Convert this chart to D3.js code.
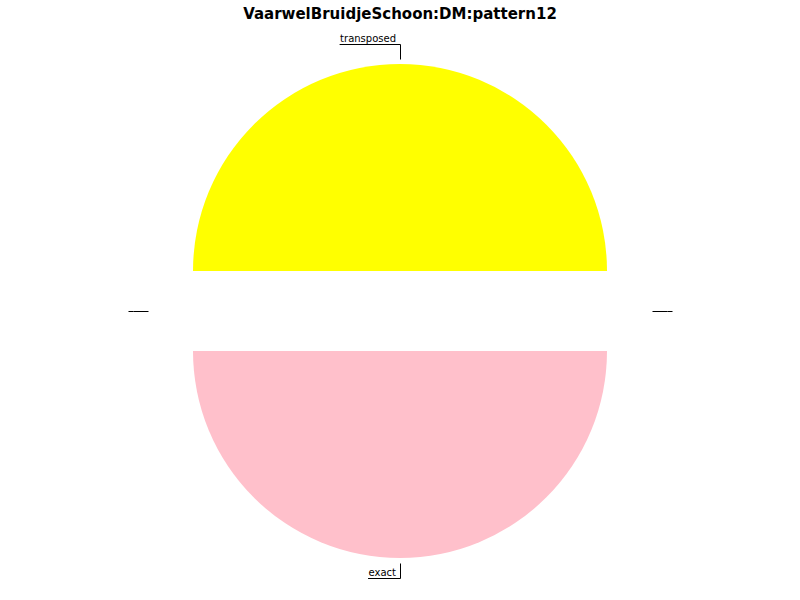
<!DOCTYPE html>
<html><head><meta charset="utf-8">
<script src="https://cdn.jsdelivr.net/npm/d3@7"></script>
<style>body{margin:0;background:#fff;} svg{display:block;}</style>
</head><body>
<svg id="chart" width="800" height="600"></svg>
<script>
const title = "VaarwelBruidjeSchoon:DM:pattern12";
const categories = ["transposed", "", "exact", ""];
const values = [1, 0, 1, 0];
const colors = ["#ffff00", "#cccccc", "#ffc0cb", "#cccccc"];

const W = 800, H = 600;
const cx = 400, cy = 311, R = 207, explode = 40;
const svg = d3.select("#chart");
svg.append("rect").attr("width", W).attr("height", H).attr("fill", "#fff");

svg.append("text").attr("x", W/2).attr("y", 19).attr("text-anchor", "middle")
  .attr("font-family", "DejaVu Sans").attr("font-weight", "bold").attr("font-size", 15)
  .text(title);

const data = categories.map((c, i) => ({name: c, value: values[i], color: colors[i]}));
const pie = d3.pie().value(d => d.value).sort(null).startAngle(-Math.PI/2).endAngle(3*Math.PI/2);
const arcs = pie(data);
const arc = d3.arc().innerRadius(0).outerRadius(R);
const g = svg.append("g").attr("transform", `translate(${cx},${cy})`);

arcs.forEach(a => {
  const mid = (a.startAngle + a.endAngle) / 2;
  const dx = Math.sin(mid) * explode, dy = -Math.cos(mid) * explode;
  if (a.data.value > 0) {
    g.append("path").attr("d", arc(a)).attr("fill", a.data.color)
      .attr("transform", `translate(${dx},${dy})`);
  }
});

arcs.forEach(a => {
  const mid = (a.startAngle + a.endAngle) / 2;
  const s = Math.sin(mid), c = -Math.cos(mid);
  const r1 = R + explode + 5, r2 = R + explode + 20;
  const x1 = s * r1, y1 = c * r1, x2 = s * r2, y2 = c * r2;
  const right = s > 1e-6;
  const t = g.append("text").attr("font-family", "DejaVu Sans").attr("font-size", 10)
    .attr("y", y2 - 2).attr("text-anchor", right ? "start" : "end")
    .attr("x", right ? x2 + 4 : x2 - 4).text(a.data.name);
  const tw = a.data.name ? t.node().getComputedTextLength() : 0;
  const x3 = right ? x2 + tw + 5 : x2 - tw - 5;
  g.append("path").attr("d", `M${x1},${y1}L${x2},${y2}L${x3},${y2}`)
    .attr("fill", "none").attr("stroke", "#000").attr("stroke-width", 1)
    .attr("transform", "translate(0.5,0.5)");
});
</script>
</body></html>
